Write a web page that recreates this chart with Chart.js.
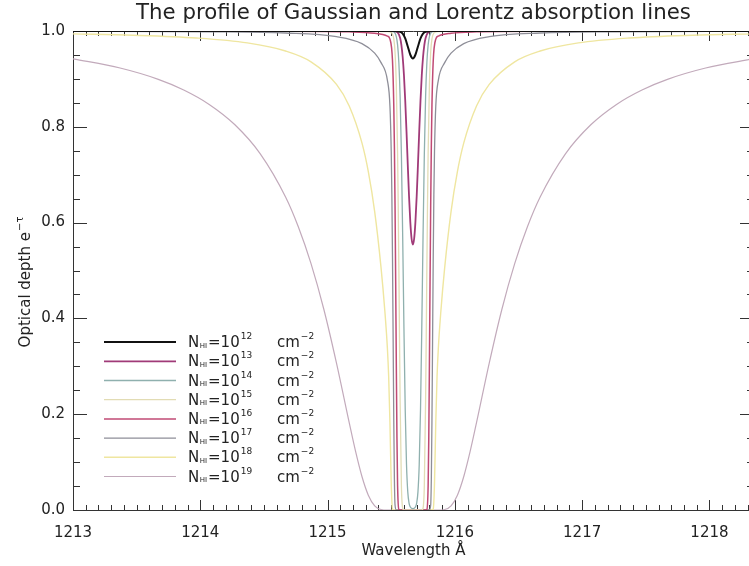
<!DOCTYPE html>
<html><head><meta charset="utf-8">
<script src="https://cdn.jsdelivr.net/npm/chart.js@4.4.1/dist/chart.umd.min.js"></script>
<style>html,body{margin:0;padding:0;overflow:hidden;background:#fff;width:749px;height:566px}canvas{display:block}</style>
</head><body>
<canvas id="c" width="756" height="566"></canvas>
<script>
// ---------------- data ----------------
const titleText = 'The profile of Gaussian and Lorentz absorption lines';
const xAxisTitle = 'Wavelength Å';
const yAxisTitle = 'Optical depth e';
const yAxisTitleSup = '−τ';
const columnExponents = [12, 13, 14, 15, 16, 17, 18, 19];

const wl12 = [1213, 1215.52, 1215.57, 1215.59, 1215.61, 1215.63, 1215.65, 1215.67, 1215.69, 1215.71, 1215.73, 1215.75, 1215.77, 1215.82, 1218.35];
const od12 = [1, 1, 0.9985, 0.9944, 0.9845, 0.9678, 0.9504, 0.9427, 0.9504, 0.9678, 0.9845, 0.9944, 0.9985, 1, 1];

const wl13 = [1213, 1215.52, 1215.55, 1215.57, 1215.58, 1215.59, 1215.60, 1215.61, 1215.62, 1215.63, 1215.64, 1215.65, 1215.66, 1215.67, 1215.68, 1215.69, 1215.70, 1215.71, 1215.72, 1215.73, 1215.74, 1215.75, 1215.76, 1215.77, 1215.79, 1215.82, 1218.35];
const od13 = [1, 0.9998, 0.9971, 0.9853, 0.9706, 0.9457, 0.9075, 0.855, 0.7906, 0.7207, 0.6547, 0.601, 0.5663, 0.5543, 0.5663, 0.601, 0.6547, 0.7207, 0.7906, 0.855, 0.9075, 0.9457, 0.9706, 0.9853, 0.9971, 0.9998, 1];

const wl14 = [1213, 1215.47, 1215.52, 1215.54, 1215.55, 1215.56, 1215.57, 1215.58, 1215.59, 1215.60, 1215.61, 1215.62, 1215.63, 1215.64, 1215.65, 1215.67, 1215.69, 1215.70, 1215.71, 1215.72, 1215.73, 1215.74, 1215.75, 1215.76, 1215.77, 1215.78, 1215.79, 1215.80, 1215.82, 1215.87, 1218.35];
const od14 = [1, 0.9997, 0.9983, 0.9884, 0.971, 0.9338, 0.8623, 0.7418, 0.5718, 0.3787, 0.2087, 0.0955, 0.0378, 0.0145, 0.0062, 0.0027, 0.0062, 0.0145, 0.0378, 0.0955, 0.2087, 0.3787, 0.5718, 0.7418, 0.8623, 0.9338, 0.971, 0.9884, 0.9983, 0.9997, 1];

const wl15 = [1213, 1215.17, 1215.47, 1215.50, 1215.52, 1215.53, 1215.54, 1215.55, 1215.555, 1215.56, 1215.565, 1215.57, 1215.58, 1215.59, 1215.60, 1215.67, 1215.74, 1215.75, 1215.76, 1215.77, 1215.775, 1215.78, 1215.785, 1215.79, 1215.80, 1215.81, 1215.82, 1215.84, 1215.87, 1216.17, 1218.35];
const od15 = [1, 0.9998, 0.9989, 0.9971, 0.9834, 0.9556, 0.8874, 0.745, 0.636, 0.504, 0.3614, 0.2274, 0.0504, 0.0037, 0.0001, 0, 0.0001, 0.0037, 0.0504, 0.2274, 0.3614, 0.504, 0.636, 0.745, 0.8874, 0.9556, 0.9834, 0.9971, 0.9989, 0.9998, 1];

const wl16 = [1213, 1214.67, 1215.17, 1215.37, 1215.47, 1215.49, 1215.51, 1215.52, 1215.525, 1215.53, 1215.535, 1215.54, 1215.545, 1215.55, 1215.56, 1215.57, 1215.67, 1215.77, 1215.78, 1215.79, 1215.795, 1215.80, 1215.805, 1215.81, 1215.815, 1215.82, 1215.83, 1215.85, 1215.87, 1215.97, 1216.17, 1216.67, 1218.35];
const od16 = [0.9999, 0.9996, 0.9983, 0.9953, 0.9894, 0.9831, 0.9378, 0.8456, 0.759, 0.635, 0.4775, 0.3027, 0.150, 0.0513, 0.0011, 0, 0, 0, 0.0011, 0.0513, 0.150, 0.3027, 0.4775, 0.635, 0.759, 0.8456, 0.9378, 0.9831, 0.9894, 0.9953, 0.9983, 0.9996, 0.9999];

const wl17 = [1213, 1214.07, 1214.67, 1215.07, 1215.27, 1215.37, 1215.42, 1215.47, 1215.49, 1215.50, 1215.505, 1215.51, 1215.515, 1215.52, 1215.525, 1215.53, 1215.54, 1215.67, 1215.80, 1215.81, 1215.815, 1215.82, 1215.825, 1215.83, 1215.835, 1215.84, 1215.85, 1215.87, 1215.92, 1215.97, 1216.07, 1216.27, 1216.67, 1217.27, 1218.35];
const od17 = [0.9994, 0.9983, 0.9958, 0.9882, 0.9738, 0.9538, 0.934, 0.897, 0.843, 0.749, 0.659, 0.527, 0.359, 0.1873, 0.0633, 0.0107, 0, 0, 0, 0.0107, 0.0633, 0.1873, 0.359, 0.527, 0.659, 0.749, 0.843, 0.897, 0.934, 0.9538, 0.9738, 0.9882, 0.9958, 0.9983, 0.9994];

const wl18 = [1213, 1213.47, 1213.97, 1214.37, 1214.67, 1214.87, 1215.07, 1215.17, 1215.27, 1215.32, 1215.37, 1215.42, 1215.45, 1215.47, 1215.48, 1215.49, 1215.50, 1215.51, 1215.52, 1215.67, 1215.82, 1215.83, 1215.84, 1215.85, 1215.86, 1215.87, 1215.89, 1215.92, 1215.97, 1216.02, 1216.07, 1216.17, 1216.27, 1216.47, 1216.67, 1216.97, 1217.37, 1217.87, 1218.35];
const od18 = [0.9940, 0.9912, 0.9854, 0.9751, 0.9583, 0.9357, 0.8885, 0.8435, 0.7664, 0.7065, 0.623, 0.506, 0.415, 0.337, 0.278, 0.182, 0.0557, 0.0017, 0, 0, 0, 0.0017, 0.0557, 0.182, 0.278, 0.337, 0.415, 0.506, 0.623, 0.7065, 0.7664, 0.8435, 0.8885, 0.9357, 0.9583, 0.9751, 0.9854, 0.9912, 0.9941];

const wl19 = [1213, 1213.37, 1213.67, 1213.87, 1214.07, 1214.27, 1214.47, 1214.67, 1214.77, 1214.87, 1214.97, 1215.07, 1215.17, 1215.22, 1215.27, 1215.32, 1215.37, 1215.42, 1215.47, 1215.67, 1215.87, 1215.92, 1215.97, 1216.02, 1216.07, 1216.12, 1216.17, 1216.27, 1216.37, 1216.47, 1216.57, 1216.67, 1216.87, 1217.07, 1217.27, 1217.47, 1217.67, 1217.97, 1218.35];
const od19 = [0.9420, 0.9227, 0.8991, 0.8769, 0.8468, 0.8048, 0.7441, 0.6534, 0.5913, 0.5143, 0.4196, 0.3066, 0.1823, 0.1222, 0.0699, 0.031, 0.0088, 0.0011, 0, 0, 0, 0.0011, 0.0088, 0.031, 0.0699, 0.1222, 0.1823, 0.3066, 0.4196, 0.5143, 0.5913, 0.6534, 0.7441, 0.8048, 0.8468, 0.8769, 0.8991, 0.9227, 0.9424];

const wavelengths = [wl12, wl13, wl14, wl15, wl16, wl17, wl18, wl19];
const depths = [od12, od13, od14, od15, od16, od17, od18, od19];

// ---------------- styles ----------------
const lineColors = ['#111111', '#a03a78', '#8fb0ae', '#e2dcb4', '#c04a74', '#8e8e98', '#efe6a0', '#c2aabb'];
const lineWidths = [2, 1.8, 1.3, 1.3, 1.5, 1.3, 1.4, 1.2];
const FONT = '"DejaVu Sans", sans-serif';
const TEXT = '#222';

const mctx = document.createElement('canvas').getContext('2d');
mctx.font = '100px ' + FONT;
const titleSize = Math.round(555 / mctx.measureText(titleText).width * 1000) / 10;

const datasets = wavelengths.map((wl, i) => ({
  label: 'N_HI=10^' + columnExponents[i] + ' cm^-2',
  data: wl.map((x, k) => ({ x: x, y: depths[i][k] })),
  borderColor: lineColors[i],
  borderWidth: lineWidths[i],
  pointRadius: 0,
  fill: false,
  cubicInterpolationMode: 'monotone'
}));

const framePlugin = {
  id: 'idlFrame',
  beforeDatasetsDraw(chart) {
    const { ctx, chartArea: a, scales: { x, y } } = chart;
    ctx.save();
    ctx.strokeStyle = '#333';
    ctx.lineWidth = 1;
    ctx.beginPath();
    ctx.moveTo(a.left, a.top + 0.5); ctx.lineTo(a.right, a.top + 0.5);
    ctx.moveTo(a.right - 0.5, a.top); ctx.lineTo(a.right - 0.5, a.bottom);
    for (let k = 0; k <= 60; k++) {
      const v = 1213 + k * 0.1;
      const px = Math.round(x.getPixelForValue(v)) + 0.5;
      if (px > a.right) break;
      const L = (k % 10 === 0) ? 10 : 5;
      ctx.moveTo(px, a.bottom); ctx.lineTo(px, a.bottom - L);
      ctx.moveTo(px, a.top); ctx.lineTo(px, a.top + L);
    }
    for (let k = 0; k <= 20; k++) {
      const v = k * 0.05;
      const py = Math.round(y.getPixelForValue(v)) + 0.5;
      const L = (k % 4 === 0) ? 14 : 7;
      ctx.moveTo(a.left, py); ctx.lineTo(a.left + L, py);
      ctx.moveTo(a.right, py); ctx.lineTo(a.right - L, py);
    }
    ctx.stroke();
    ctx.restore();
  },
  afterDraw(chart) {
    const ctx = chart.ctx;
    ctx.save();
    ctx.fillStyle = TEXT;
    // y-axis title with superscript
    ctx.translate(25, 282);
    ctx.rotate(-Math.PI / 2);
    ctx.textBaseline = 'alphabetic';
    ctx.font = '15px ' + FONT;
    const w1 = ctx.measureText(yAxisTitle).width;
    ctx.font = '10px ' + FONT;
    const w2 = ctx.measureText(yAxisTitleSup).width;
    const start = -(w1 + w2 + 1) / 2;
    ctx.font = '15px ' + FONT;
    ctx.fillText(yAxisTitle, start, 5);
    ctx.font = '10px ' + FONT;
    ctx.fillText(yAxisTitleSup, start + w1 + 1, -2);
    ctx.restore();

    // legend
    ctx.save();
    columnExponents.forEach((e, i) => {
      const yc = 341.6 + 19.2 * i;
      ctx.strokeStyle = lineColors[i];
      ctx.lineWidth = lineWidths[i];
      ctx.beginPath();
      ctx.moveTo(104, yc + 0.5); ctx.lineTo(176, yc + 0.5);
      ctx.stroke();
      const base = yc + 5.5;
      ctx.fillStyle = TEXT;
      ctx.textBaseline = 'alphabetic';
      let xx = 188;
      ctx.font = '15px ' + FONT;
      ctx.fillText('N', xx, base);
      xx += ctx.measureText('N').width + 0.5;
      ctx.font = '7px ' + FONT;
      ctx.fillText('HI', xx, base + 0.5);
      xx += ctx.measureText('HI').width + 1;
      ctx.font = '15px ' + FONT;
      ctx.fillText('=10', xx, base);
      xx += ctx.measureText('=10').width + 1;
      ctx.font = '9px ' + FONT;
      ctx.fillText(String(e), xx, base - 8);
      ctx.font = '15px ' + FONT;
      ctx.fillText('cm', 277, base);
      const wc = ctx.measureText('cm').width;
      ctx.font = '9px ' + FONT;
      ctx.fillText('−2', 277 + wc + 1, base - 8);
    });
    ctx.restore();
  }
};

new Chart(document.getElementById('c'), {
  type: 'line',
  data: { datasets: datasets },
  options: {
    responsive: false,
    devicePixelRatio: 1,
    animation: false,
    layout: { padding: { left: 0, right: 2, top: 0, bottom: 0 } },
    plugins: {
      legend: { display: false },
      tooltip: { enabled: false },
      title: {
        display: true,
        text: titleText,
        fullSize: false,
        color: TEXT,
        font: { family: FONT, size: titleSize, weight: 'normal', lineHeight: 1.2 },
        padding: { top: 1, bottom: 31 - 1 - 1.2 * titleSize }
      }
    },
    scales: {
      x: {
        type: 'linear',
        min: 1213,
        max: 1218.35,
        afterFit: (s) => { s.height = 56; },
        grid: { display: false, drawTicks: false },
        border: { display: true, color: '#333', width: 1 },
        ticks: {
          stepSize: 1,
          includeBounds: false,
          padding: 14,
          color: TEXT,
          font: { family: FONT, size: 15 },
          maxRotation: 0,
          callback: (v) => String(v)
        },
        title: {
          display: true,
          text: xAxisTitle,
          color: TEXT,
          font: { family: FONT, size: 15, lineHeight: 1.2 },
          padding: { top: 0, bottom: 6 }
        }
      },
      y: {
        type: 'linear',
        min: 0,
        max: 1,
        afterFit: (s) => { s.width = 73; },
        grid: { display: false, drawTicks: false },
        border: { display: true, color: '#333', width: 1 },
        ticks: {
          stepSize: 0.2,
          padding: 8,
          color: TEXT,
          font: { family: FONT, size: 15 },
          callback: (v) => Number(v).toFixed(1)
        }
      }
    }
  },
  plugins: [framePlugin]
});
</script>
</body></html>
